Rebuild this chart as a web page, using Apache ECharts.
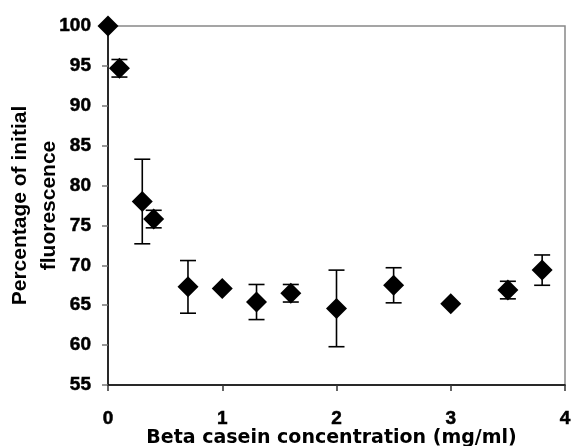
<!DOCTYPE html>
<html>
<head>
<meta charset="utf-8">
<script src="https://cdn.jsdelivr.net/npm/echarts@6/dist/echarts.min.js"></script>
<style>
  html, body { margin: 0; padding: 0; background: #fff; }
  #chart { width: 572px; height: 446px; }
</style>
</head>
<body>
<div id="chart"></div>
<script>
// beta casein concentration (mg/ml)
const concentrations = [0, 0.1, 0.3, 0.4, 0.7, 1.0, 1.3, 1.6, 2.0, 2.5, 3.0, 3.5, 3.8]
// percentage of initial fluorescence
const fluorescence = [100, 94.7, 78.0, 75.8, 67.3, 67.1, 65.4, 66.5, 64.6, 67.5, 65.2, 66.9, 69.4]
// error bar half-heights
const errors = [0, 1.1, 5.3, 1.1, 3.3, 0, 2.2, 1.1, 4.8, 2.2, 0, 1.1, 1.9]

const yTicks = { min: 55, max: 100, step: 5 }
const xTicks = { min: 0, max: 4, step: 1 }

const chart = echarts.init(document.getElementById('chart'))

const errorData = concentrations.map((x, i) => [x, fluorescence[i] - errors[i], fluorescence[i] + errors[i]])
const pointData = concentrations.map((x, i) => [x, fluorescence[i]])

const tickStyle = {
  fontFamily: 'Liberation Sans',
  fontWeight: 'bold',
  fontSize: 19,
  color: '#000',
  textBorderColor: '#000',
  textBorderWidth: 0.5
}

chart.setOption({
  backgroundColor: '#fff',
  animation: false,
  textStyle: { fontFamily: 'Liberation Sans', fontWeight: 'bold', color: '#000' },
  grid: {
    left: 108, right: 7, top: 26, bottom: 61,
    outerBoundsMode: 'none',
    containLabel: false,
    show: true,
    borderColor: '#888',
    borderWidth: 1.5
  },
  xAxis: {
    type: 'value',
    min: xTicks.min,
    max: xTicks.max,
    interval: xTicks.step,
    splitLine: { show: false },
    axisLine: { lineStyle: { color: '#000', width: 1.5 } },
    axisTick: { length: 6, lineStyle: { color: '#333', width: 1.5 } },
    axisLabel: {
      margin: 24,
      formatter: '{t|{value}}',
      rich: { t: tickStyle }
    },
    name: 'Beta casein concentration (mg/ml)',
    nameLocation: 'middle',
    nameMoveOverlap: false,
    nameGap: 44,
    nameTextStyle: {
      fontFamily: 'DejaVu Sans',
      fontWeight: 'bold',
      fontSize: 19,
      color: '#000',
      padding: [0, 10, 0, 0]
    }
  },
  yAxis: {
    type: 'value',
    min: yTicks.min,
    max: yTicks.max,
    interval: yTicks.step,
    splitLine: { show: false },
    axisLine: { lineStyle: { color: '#000', width: 1.5 } },
    axisTick: { length: 6, lineStyle: { color: '#777', width: 1.5 } },
    axisLabel: {
      margin: 17,
      formatter: '{t|{value}}',
      rich: { t: tickStyle }
    },
    name: 'Percentage of initial\nfluorescence',
    nameLocation: 'middle',
    nameMoveOverlap: false,
    nameRotate: 90,
    nameGap: 44,
    nameTextStyle: {
      fontFamily: 'Liberation Sans',
      fontWeight: 'bold',
      fontSize: 21,
      lineHeight: 29,
      color: '#000'
    }
  },
  series: [
    {
      type: 'custom',
      clip: false,
      data: errorData,
      renderItem: (params, api) => {
        const x = api.value(0)
        const lo = api.value(1)
        const hi = api.value(2)
        if (hi - lo < 0.01) return
        const pLo = api.coord([x, lo])
        const pHi = api.coord([x, hi])
        const cap = 8
        const style = { stroke: '#000', lineWidth: 1.6 }
        return {
          type: 'group',
          children: [
            { type: 'line', shape: { x1: pLo[0], y1: pLo[1], x2: pHi[0], y2: pHi[1] }, style },
            { type: 'line', shape: { x1: pHi[0] - cap, y1: pHi[1], x2: pHi[0] + cap, y2: pHi[1] }, style },
            { type: 'line', shape: { x1: pLo[0] - cap, y1: pLo[1], x2: pLo[0] + cap, y2: pLo[1] }, style }
          ]
        }
      },
      z: 2
    },
    {
      type: 'scatter',
      clip: false,
      symbol: 'diamond',
      symbolSize: [21, 21],
      itemStyle: { color: '#000', opacity: 1 },
      data: pointData,
      z: 3
    }
  ]
})
</script>
</body>
</html>
